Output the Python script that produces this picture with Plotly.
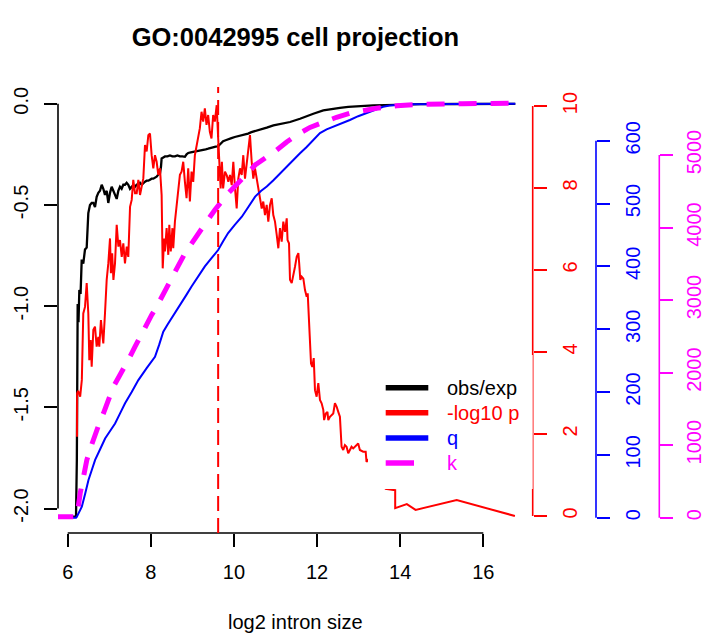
import plotly.graph_objects as go

# ---------------- data ----------------
obs_x = [5.70, 6.20, 6.22, 6.23, 6.24, 6.26, 6.28, 6.31, 6.337, 6.375, 6.416, 6.457, 6.496, 6.536,
         6.577, 6.617, 6.657, 6.697, 6.737, 6.777, 6.818, 6.857, 6.897, 6.938, 6.977, 7.018, 7.058,
         7.098, 7.138, 7.179, 7.218, 7.258, 7.298, 7.338, 7.378, 7.418, 7.458, 7.499, 7.54, 7.578,
         7.62, 7.66, 7.699, 7.74, 7.78, 7.82, 7.86, 7.90, 7.94, 7.98, 8.02, 8.06, 8.10, 8.14, 8.18,
         8.22, 8.245, 8.26, 8.30, 8.34, 8.40, 8.46, 8.52, 8.58, 8.64, 8.70, 8.76, 8.82, 8.86, 8.90,
         8.96, 9.02, 9.08, 9.14, 9.20, 9.26, 9.32, 9.38, 9.44, 9.50, 9.56, 9.62, 9.68, 9.74, 9.80,
         9.86, 9.94, 10.02, 10.10, 10.19, 10.27, 10.34, 10.42, 10.51, 10.63, 10.79, 10.95, 11.15,
         11.35, 11.59, 11.75, 11.91, 12.15, 12.35, 12.55, 12.75, 12.95, 13.35, 13.92, 14.5, 15.5, 16.77]
obs_y = [-2.04, -2.04, -1.76, -1.37, -0.99, -1.08, -0.92, -0.94, -0.77, -0.79, -0.72, -0.71, -0.54,
         -0.50, -0.49, -0.49, -0.51, -0.46, -0.44, -0.43, -0.40, -0.42, -0.45, -0.43, -0.49, -0.44,
         -0.41, -0.43, -0.45, -0.47, -0.43, -0.41, -0.42, -0.40, -0.40, -0.39, -0.40, -0.42, -0.41,
         -0.42, -0.41, -0.40, -0.40, -0.39, -0.40, -0.39, -0.385, -0.38, -0.38, -0.375, -0.37, -0.37,
         -0.365, -0.36, -0.35, -0.345, -0.31, -0.27, -0.265, -0.26, -0.26, -0.255, -0.26, -0.26,
         -0.255, -0.26, -0.26, -0.262, -0.25, -0.243, -0.24, -0.238, -0.235, -0.232, -0.23, -0.228,
         -0.225, -0.222, -0.218, -0.214, -0.212, -0.21, -0.195, -0.185, -0.18, -0.177, -0.17, -0.164,
         -0.16, -0.156, -0.15, -0.147, -0.14, -0.135, -0.13, -0.118, -0.107, -0.098, -0.09, -0.074,
         -0.06, -0.049, -0.033, -0.025, -0.02, -0.015, -0.012, -0.008, -0.005, -0.002, -0.001, 0.0]

p_x = [6.225, 6.226, 6.25, 6.30, 6.34, 6.375, 6.416, 6.457, 6.496, 6.52, 6.553, 6.577, 6.617, 6.657,
       6.697, 6.737, 6.76, 6.80, 6.83, 6.857, 6.897, 6.938, 6.977, 7.018, 7.04, 7.07, 7.10, 7.138,
       7.179, 7.22, 7.258, 7.30, 7.338, 7.378, 7.42, 7.458, 7.50, 7.54, 7.578, 7.62, 7.66, 7.70,
       7.74, 7.78, 7.82, 7.86, 7.90, 7.94, 7.98, 8.02, 8.06, 8.10, 8.14, 8.18, 8.22, 8.26, 8.28,
       8.286, 8.32, 8.34, 8.38, 8.42, 8.445, 8.48, 8.52, 8.54, 8.58, 8.62, 8.66, 8.70, 8.74, 8.78,
       8.82, 8.86, 8.90, 8.94, 8.98, 9.02, 9.06, 9.10, 9.14, 9.18, 9.22, 9.26, 9.30, 9.34, 9.38,
       9.42, 9.46, 9.50, 9.54, 9.585, 9.617, 9.65, 9.68, 9.71, 9.74, 9.785, 9.83, 9.865, 9.905,
       9.946, 9.985, 10.026, 10.066, 10.105, 10.146, 10.187, 10.225, 10.266, 10.307, 10.346,
       10.386, 10.427, 10.466, 10.507, 10.548, 10.586, 10.627, 10.668, 10.706, 10.747, 10.788,
       10.827, 10.868, 10.909, 10.947, 10.988, 11.03, 11.068, 11.108, 11.149, 11.188, 11.229,
       11.27, 11.29, 11.325, 11.349, 11.39, 11.428, 11.469, 11.51, 11.55, 11.57, 11.597, 11.63,
       11.67, 11.71, 11.75, 11.775, 11.806, 11.83, 11.855, 11.886, 11.92, 11.95, 11.99, 12.03,
       12.07, 12.11, 12.15, 12.17, 12.21, 12.25, 12.27, 12.31, 12.35, 12.39, 12.43, 12.47, 12.51,
       12.55, 12.59, 12.63, 12.67, 12.71, 12.75, 12.79, 12.83, 12.87, 12.91, 12.95, 12.99, 13.03,
       13.11, 13.17, 13.19, 13.23, 13.45, 13.65, 13.88, 13.88, 14.16, 14.37, 15.36, 16.76]
p_y = [1.93, 2.99, 3.05, 2.91, 3.32, 4.94, 5.10, 5.68, 4.94, 3.80, 4.29, 3.64, 4.54, 4.62, 4.13,
       4.37, 4.13, 4.78, 4.46, 4.21, 4.94, 5.76, 6.16, 6.77, 5.92, 6.41, 5.76, 6.16, 7.10, 6.57,
       6.73, 6.32, 6.65, 6.16, 6.57, 6.32, 7.54, 7.71, 8.20, 7.87, 7.87, 8.20, 7.83, 8.00, 8.24,
       9.05, 8.89, 9.29, 9.33, 8.80, 8.48, 8.80, 8.64, 8.32, 8.48, 7.83, 6.85, 6.04, 6.77, 6.45,
       7.02, 6.37, 7.10, 6.45, 7.02, 6.53, 7.18, 7.59, 7.91, 8.32, 8.40, 8.64, 8.15, 7.75, 8.48,
       7.67, 8.40, 8.15, 8.80, 9.05, 9.21, 9.46, 9.86, 9.62, 9.94, 9.54, 9.78, 9.37, 9.21, 9.78,
       9.62, 10.02, 9.29, 8.64, 7.99, 8.64, 7.99, 8.40, 8.30, 8.15, 8.32, 8.07, 8.64, 7.99, 7.50,
       8.23, 8.48, 8.32, 8.80, 8.23, 8.64, 8.89, 9.29, 8.64, 8.23, 8.48, 8.23, 7.99, 7.67, 7.50,
       7.67, 7.34, 7.59, 7.18, 7.59, 7.75, 7.34, 7.18, 6.85, 6.53, 7.02, 6.69, 7.18, 6.93, 7.26,
       6.73, 6.65, 5.76, 5.68, 5.92, 6.08, 6.32, 6.41, 6.16, 5.76, 5.84, 5.79, 5.51, 5.35, 5.43,
       4.86, 4.37, 3.72, 3.64, 3.85, 3.07, 2.91, 3.24, 2.83, 2.75, 2.59, 2.34, 2.50, 2.54, 2.34,
       2.42, 2.46, 2.50, 2.75, 2.67, 2.54, 2.42, 1.69, 1.61, 1.73, 1.69, 1.53, 1.61, 1.69, 1.65,
       1.69, 1.73, 1.77, 1.61, 1.57, 1.57, 1.32, 1.37, 1.00, 0.66, 0.63, 0.19, 0.29, 0.15, 0.39, 0.0]

q_x = [5.70, 6.20, 6.22, 6.34, 6.42, 6.50, 6.58, 6.66, 6.78, 6.90, 7.02, 7.14, 7.26, 7.38, 7.54,
       7.70, 7.90, 8.10, 8.20, 8.30, 8.40, 8.50, 8.62, 8.74, 8.86, 8.98, 9.14, 9.30, 9.46, 9.62,
       9.74, 9.86, 10.02, 10.19, 10.35, 10.51, 10.65, 10.79, 10.95, 11.11, 11.27, 11.43, 11.59,
       11.75, 11.91, 12.07, 12.23, 12.39, 12.59, 12.79, 12.99, 13.19, 13.39, 13.59, 13.75, 13.92,
       14.3, 15.0, 16.0, 16.77]
q_y = [0, 0, 1.6, 17.5, 38, 60, 76, 92, 109, 126, 138, 150, 166, 182, 200, 219, 238, 256, 275,
       296, 307, 317, 329, 341, 355, 368, 384, 400, 413, 426, 440, 453, 466, 479, 495, 511, 520,
       527, 537, 548, 558, 569, 580, 590, 601, 612, 618, 622, 628, 633, 639, 644, 649, 654, 656,
       657, 658, 658.5, 658.7, 658.8]

k_x = [5.70, 6.22, 6.30, 6.38, 6.46, 6.56, 6.66, 6.76, 6.86, 6.98, 7.10, 7.24, 7.38, 7.50, 7.62,
       7.76, 7.90, 8.02, 8.14, 8.28, 8.42, 8.62, 8.82, 8.98, 9.14, 9.34, 9.54, 9.70, 9.86, 10.02,
       10.19, 10.35, 10.51, 10.63, 10.83, 11.03, 11.27, 11.51, 11.83, 12.15, 12.47, 12.79, 13.11,
       13.43, 13.92, 14.56, 15.5, 16.77]
k_y = [14, 14, 336, 570, 795, 980, 1163, 1300, 1439, 1620, 1806, 1950, 2082, 2220, 2357, 2520,
       2680, 2795, 2909, 3070, 3210, 3430, 3645, 3785, 3921, 4080, 4242, 4360, 4472, 4565, 4655,
       4760, 4862, 4908, 4990, 5069, 5180, 5276, 5380, 5459, 5520, 5575, 5615, 5644, 5680, 5699,
       5708, 5713]

marker_x = 9.62

x_ticks = [6, 8, 10, 12, 14, 16]
left_ticks = [0.0, -0.5, -1.0, -1.5, -2.0]
left_labels = ["0.0", "-0.5", "-1.0", "-1.5", "-2.0"]
p_ticks = [0, 2, 4, 6, 8, 10]
q_ticks = [0, 100, 200, 300, 400, 500, 600]
k_ticks = [0, 1000, 2000, 3000, 4000, 5000]

title_text = "GO:0042995 cell projection"
x_title = "log2 intron size"
legend_names = ["obs/exp", "-log10 p", "q", "k"]

# ---------------- layout geometry ----------------
W, H = 705, 637
AL, AR, AT, AB = 58, 690, 87, 533  # plot area in pixels
FONT = "Liberation Sans, Arial, Helvetica, sans-serif"
RED, BLUE, PINK = "#ff0000", "#0000ff", "#ff00ff"


def lin_range(v1, p1, v2, p2, lo_px, hi_px):
    s = (v2 - v1) / (p2 - p1)
    return [v1 + (lo_px - p1) * s, v1 + (hi_px - p1) * s]


def px_x(px):
    return (px - AL) / (AR - AL)


def px_y(py):
    return (AB - py) / (AB - AT)


x_range = lin_range(6, 67.7, 16, 483.3, AL, AR)
y_range = lin_range(0, 103.8, -2, 508.5, AB, AT)
y2_range = lin_range(0, 516, 10, 106, AB, AT)
y3_range = lin_range(0, 517.7, 600, 140.7, AB, AT)
y4_range = lin_range(0, 517.7, 5000, 155, AB, AT)

pos_red, pos_blue, pos_pink = px_x(532.7), px_x(596), px_x(659.3)

fig = go.Figure()
fig.add_trace(go.Scatter(x=obs_x, y=obs_y, mode="lines", yaxis="y",
                         line=dict(color="black", width=2.3), showlegend=False, hoverinfo="skip"))
fig.add_trace(go.Scatter(x=p_x, y=p_y, mode="lines", yaxis="y2",
                         line=dict(color=RED, width=2), showlegend=False, hoverinfo="skip"))
fig.add_trace(go.Scatter(x=q_x, y=q_y, mode="lines", yaxis="y3",
                         line=dict(color=BLUE, width=2), showlegend=False, hoverinfo="skip"))
fig.add_trace(go.Scatter(x=k_x, y=k_y, mode="lines", yaxis="y4",
                         line=dict(color=PINK, width=5, dash="18px,14px"), showlegend=False,
                         hoverinfo="skip"))


def yax(rng, vals, color, labels=None, standoff=0, **kw):
    d = dict(range=rng, tickvals=vals, ticks="outside", ticklen=13, tickwidth=1.5,
             tickcolor=color, tickangle=-90, showgrid=False, zeroline=False, showline=False,
             automargin=False, fixedrange=True, ticklabelstandoff=standoff,
             tickfont=dict(family=FONT, size=20, color=color))
    d["ticktext"] = labels if labels is not None else [str(v) for v in vals]
    d.update(kw)
    return d


shapes = []
lw = 1.6
# axis lines spanning only the tick range (R style)
shapes.append(dict(type="line", xref="x", yref="paper", x0=x_ticks[0], x1=x_ticks[-1], y0=0, y1=0,
                   line=dict(color="black", width=lw), layer="above"))
shapes.append(dict(type="line", xref="paper", yref="y", x0=0, x1=0, y0=left_ticks[-1], y1=left_ticks[0],
                   line=dict(color="black", width=lw), layer="above"))
shapes.append(dict(type="line", xref="paper", yref="y2", x0=pos_red, x1=pos_red, y0=p_ticks[0], y1=p_ticks[-1],
                   line=dict(color=RED, width=lw), layer="above"))
shapes.append(dict(type="line", xref="paper", yref="y3", x0=pos_blue, x1=pos_blue, y0=q_ticks[0], y1=q_ticks[-1],
                   line=dict(color=BLUE, width=lw), layer="above"))
shapes.append(dict(type="line", xref="paper", yref="y4", x0=pos_pink, x1=pos_pink, y0=k_ticks[0], y1=k_ticks[-1],
                   line=dict(color=PINK, width=lw), layer="above"))
# vertical dashed marker
shapes.append(dict(type="line", xref="x", yref="paper", x0=marker_x, x1=marker_x, y0=0, y1=1,
                   line=dict(color=RED, width=2, dash="15px,7px"), layer="above"))
# legend box (white, no border)
shapes.append(dict(type="rect", xref="paper", yref="paper", x0=px_x(368), x1=px_x(532.7),
                   y0=px_y(489), y1=px_y(355), fillcolor="white", line=dict(width=0), layer="above"))

leg_rows = [387.7, 412.7, 438.0, 463.0]
leg_colors = ["black", RED, BLUE, PINK]
leg_ends = [428.3, 428.3, 428.3, 414.0]
annotations = []
for name, row, col, xe in zip(legend_names, leg_rows, leg_colors, leg_ends):
    shapes.append(dict(type="line", xref="paper", yref="paper", x0=px_x(385.7), x1=px_x(xe),
                       y0=px_y(row), y1=px_y(row), line=dict(color=col, width=5.5), layer="above"))
    annotations.append(dict(text=name, xref="paper", yref="paper", x=px_x(445), y=px_y(row),
                            xanchor="left", yanchor="middle", showarrow=False,
                            font=dict(family=FONT, size=20, color=col)))

annotations.append(dict(text=x_title, xref="paper", yref="paper", x=px_x(295.4), y=px_y(621.7),
                        xanchor="center", yanchor="middle", showarrow=False,
                        font=dict(family=FONT, size=20, color="black")))

fig.update_layout(
    width=W, height=H,
    margin=dict(l=AL, r=W - AR, t=AT, b=H - AB, pad=0),
    paper_bgcolor="white", plot_bgcolor="white",
    showlegend=False,
    title=dict(text="<b>" + title_text + "</b>", xref="paper", x=px_x(295.4), xanchor="center",
               yref="container", y=1 - 36.7 / H, yanchor="middle",
               font=dict(family=FONT, size=25.5, color="black")),
    xaxis=dict(range=x_range, tickvals=x_ticks, ticktext=[str(v) for v in x_ticks],
               ticks="outside", ticklen=13, tickwidth=1.5, tickcolor="black",
               showgrid=False, zeroline=False, showline=False, automargin=False, fixedrange=True,
               ticklabelstandoff=8,
               tickfont=dict(family=FONT, size=20, color="black")),
    yaxis=yax(y_range, left_ticks, "black", left_labels, standoff=8, side="left", anchor="x"),
    yaxis2=yax(y2_range, p_ticks, RED, standoff=6, overlaying="y", side="right", anchor="free",
               position=pos_red),
    yaxis3=yax(y3_range, q_ticks, BLUE, standoff=6, overlaying="y", side="right", anchor="free",
               position=pos_blue),
    yaxis4=yax(y4_range, k_ticks, PINK, standoff=4, overlaying="y", side="right", anchor="free",
               position=pos_pink),
    shapes=shapes,
    annotations=annotations,
)

fig.write_html("out.html", config={"displayModeBar": False},
               post_script="document.body.style.margin='0';")
